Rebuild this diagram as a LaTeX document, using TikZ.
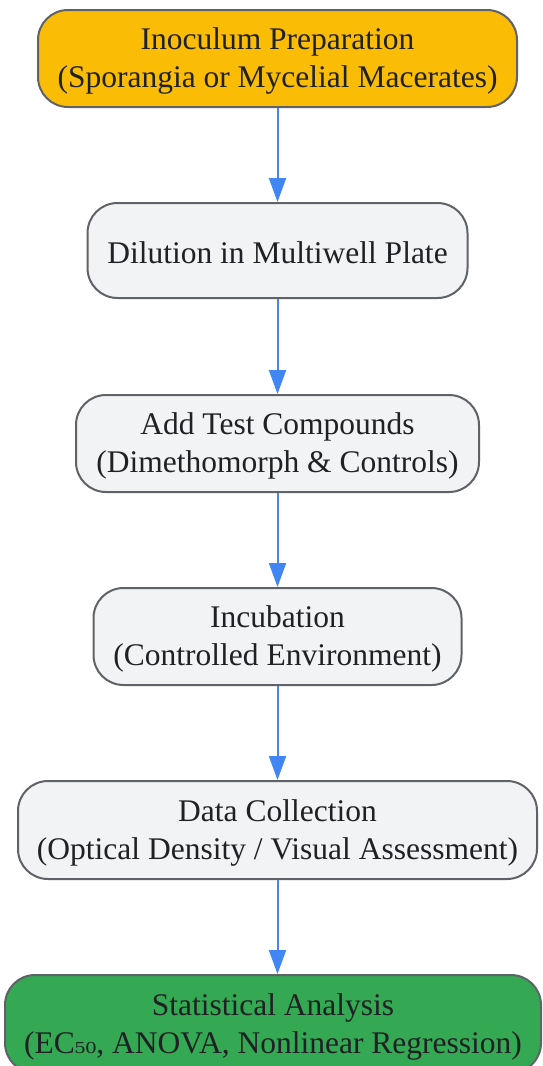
\documentclass[tikz,border=0pt]{standalone}
\usepackage{fontspec}
\setmainfont{Liberation Serif}
\newfontfamily\subfont{DejaVu Serif}
\usetikzlibrary{arrows.meta}
\definecolor{boxgray}{HTML}{F1F3F4}
\definecolor{bordergray}{HTML}{5F6368}
\definecolor{gyellow}{HTML}{FBBC05}
\definecolor{ggreen}{HTML}{34A853}
\definecolor{gblue}{HTML}{4285F4}
\definecolor{txt}{HTML}{202124}
\tikzset{
  x=1pt,y=-1pt,
  stepbox/.style={draw=bordergray, line width=2pt, rounded corners=30pt, fill=boxgray,
    inner sep=0pt},
  steptext/.style={align=center, text=txt, inner sep=0pt, yshift=-2.5pt,
    font=\fontsize{31.5}{38}\selectfont},
  flow/.style={draw=gblue, line width=2pt, -{Triangle[length=24pt,width=17pt]}}
}
\begin{document}
\begin{tikzpicture}
\useasboundingbox (0,0) rectangle (543,1066);
\node[stepbox, fill=gyellow, minimum width=479pt, minimum height=97pt] (n1) at (277.5,58.5) {};
\node[steptext] (t1) at (n1.center) {Inoculum Preparation\\(Sporangia or Mycelial Macerates)};
\node[stepbox, minimum width=380pt, minimum height=95pt] (n2) at (277.5,250.5) {};
\node[steptext] (t2) at (n2.center) {Dilution in Multiwell Plate};
\node[stepbox, minimum width=403pt, minimum height=97pt] (n3) at (277.5,443.5) {};
\node[steptext] (t3) at (n3.center) {Add Test Compounds\\(Dimethomorph \& Controls)};
\node[stepbox, minimum width=368pt, minimum height=97pt] (n4) at (277.5,636.5) {};
\node[steptext] (t4) at (n4.center) {Incubation\\(Controlled Environment)};
\node[stepbox, minimum width=519pt, minimum height=98pt] (n5) at (277.5,830) {};
\node[steptext] (t5) at (n5.center) {Data Collection\\(Optical Density / Visual Assessment)};
\node[stepbox, fill=ggreen, minimum width=536pt, minimum height=98pt] (n6) at (273,1024) {};
\node[steptext] (t6) at (n6.center) {Statistical Analysis\\(EC{\subfont\fontsize{27}{27}\selectfont ₅₀}, ANOVA, Nonlinear Regression)};
\draw[flow] (n1.south) -- (n1.south |- n2.north);
\draw[flow] (n2.south) -- (n2.south |- n3.north);
\draw[flow] (n3.south) -- (n3.south |- n4.north);
\draw[flow] (n4.south) -- (n4.south |- n5.north);
\draw[flow] (n5.south) -- (n5.south |- n6.north);
\end{tikzpicture}
\end{document}
